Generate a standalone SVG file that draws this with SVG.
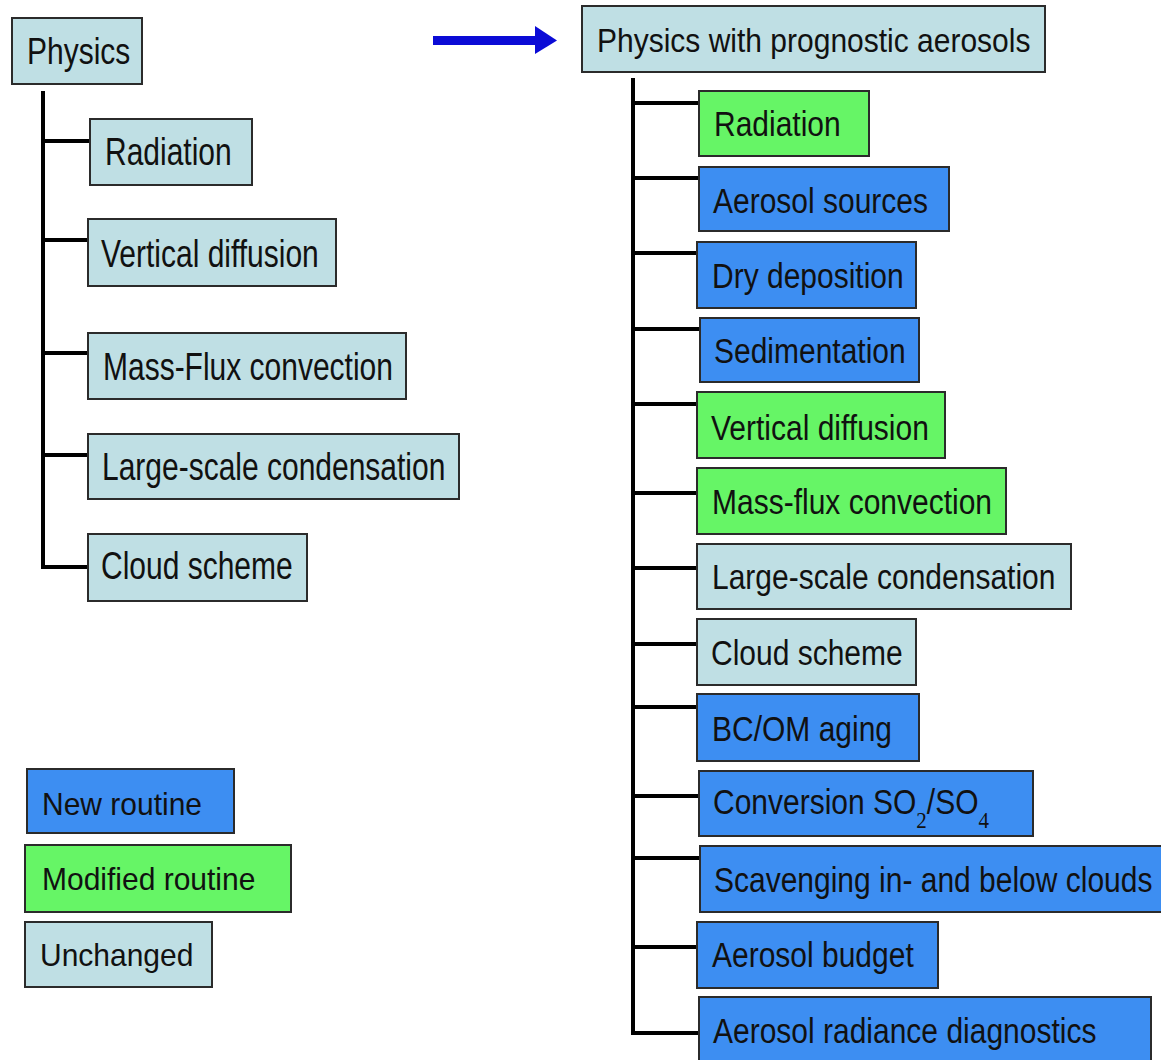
<svg xmlns="http://www.w3.org/2000/svg" width="1161" height="1060" viewBox="0 0 1161 1060">
<style>
  .box { stroke: #2b2b2b; stroke-width: 2; }
  .u { fill: #bfdfe4; }
  .n { fill: #3d8ef2; }
  .m { fill: #66f566; }
  .t { font-family: "Liberation Sans", Arial, sans-serif; font-size: 30px; fill: #111; }
  .sub { font-family: "Liberation Serif", "Times New Roman", serif; font-size: 21px; fill: #111; }
  .conn { stroke: #000; stroke-width: 4; fill: none; }
</style>
<rect width="1161" height="1060" fill="#ffffff"/>

<g id="connectors">
  <line class="conn" x1="43" y1="91" x2="43" y2="569"/>
  <line class="conn" x1="41" y1="141" x2="90" y2="141"/>
  <line class="conn" x1="41" y1="240" x2="88" y2="240"/>
  <line class="conn" x1="41" y1="353" x2="88" y2="353"/>
  <line class="conn" x1="41" y1="455" x2="88" y2="455"/>
  <line class="conn" x1="41" y1="567" x2="88" y2="567"/>

  <line class="conn" x1="633" y1="78" x2="633" y2="1035"/>
  <line class="conn" x1="631" y1="103" x2="699" y2="103"/>
  <line class="conn" x1="631" y1="178" x2="699" y2="178"/>
  <line class="conn" x1="631" y1="253" x2="697" y2="253"/>
  <line class="conn" x1="631" y1="329" x2="700" y2="329"/>
  <line class="conn" x1="631" y1="404" x2="697" y2="404"/>
  <line class="conn" x1="631" y1="493" x2="697" y2="493"/>
  <line class="conn" x1="631" y1="568" x2="697" y2="568"/>
  <line class="conn" x1="631" y1="644" x2="697" y2="644"/>
  <line class="conn" x1="631" y1="707" x2="697" y2="707"/>
  <line class="conn" x1="631" y1="796" x2="699" y2="796"/>
  <line class="conn" x1="631" y1="858" x2="700" y2="858"/>
  <line class="conn" x1="631" y1="947" x2="697" y2="947"/>
  <line class="conn" x1="631" y1="1033" x2="699" y2="1033"/>

  <g id="arrow" fill="#0b0bd6">
    <rect x="433" y="36" width="104" height="9"/>
    <polygon points="535,26 557,40.5 535,54"/>
  </g>
</g>

<!-- Left tree -->
<g id="physics">
  <rect class="box u" x="12" y="18" width="130" height="66"/>
  <text class="t" transform="translate(27,64) scale(1,1.22)">Physics</text>
</g>
<g id="l-radiation">
  <rect class="box u" x="90" y="119" width="162" height="66"/>
  <text class="t" transform="translate(105,165) scale(1,1.28)">Radiation</text>
</g>
<g id="l-vertical-diffusion">
  <rect class="box u" x="88" y="219" width="248" height="67"/>
  <text class="t" transform="translate(101,267) scale(1,1.28)">Vertical diffusion</text>
</g>
<g id="l-mass-flux">
  <rect class="box u" x="88" y="333" width="318" height="66"/>
  <text class="t" transform="translate(103,380) scale(1,1.28)">Mass-Flux convection</text>
</g>
<g id="l-large-scale">
  <rect class="box u" x="88" y="434" width="371" height="65"/>
  <text class="t" transform="translate(102,480) scale(1,1.28)">Large-scale condensation</text>
</g>
<g id="l-cloud">
  <rect class="box u" x="88" y="534" width="219" height="67"/>
  <text class="t" transform="translate(101,579) scale(1,1.28)">Cloud scheme</text>
</g>

<!-- Legend -->
<g id="legend-new">
  <rect class="box n" x="27" y="769" width="207" height="64"/>
  <text class="t" transform="translate(42,815) scale(1,1.04)">New routine</text>
</g>
<g id="legend-modified">
  <rect class="box m" x="25" y="845" width="266" height="67"/>
  <text class="t" transform="translate(42,890) scale(1,1.04)">Modified routine</text>
</g>
<g id="legend-unchanged">
  <rect class="box u" x="25" y="922" width="187" height="65"/>
  <text class="t" transform="translate(40,966) scale(1,1.04)">Unchanged</text>
</g>

<!-- Right tree -->
<g id="physics-aerosols">
  <rect class="box u" x="582" y="6" width="463" height="66"/>
  <text class="t" transform="translate(597,52) scale(1,1.08)">Physics with prognostic aerosols</text>
</g>
<g id="r-radiation">
  <rect class="box m" x="699" y="91" width="170" height="65"/>
  <text class="t" transform="translate(714,136) scale(1,1.14)">Radiation</text>
</g>
<g id="r-aerosol-sources">
  <rect class="box n" x="699" y="167" width="250" height="64"/>
  <text class="t" transform="translate(713,213) scale(1,1.14)">Aerosol sources</text>
</g>
<g id="r-dry-deposition">
  <rect class="box n" x="697" y="242" width="219" height="66"/>
  <text class="t" transform="translate(712,288) scale(1,1.14)">Dry deposition</text>
</g>
<g id="r-sedimentation">
  <rect class="box n" x="700" y="318" width="219" height="64"/>
  <text class="t" transform="translate(714,363) scale(1,1.14)">Sedimentation</text>
</g>
<g id="r-vertical-diffusion">
  <rect class="box m" x="697" y="392" width="248" height="66"/>
  <text class="t" transform="translate(711,440) scale(1,1.14)">Vertical diffusion</text>
</g>
<g id="r-mass-flux">
  <rect class="box m" x="697" y="468" width="309" height="66"/>
  <text class="t" transform="translate(712,514) scale(1,1.14)">Mass-flux convection</text>
</g>
<g id="r-large-scale">
  <rect class="box u" x="697" y="544" width="374" height="65"/>
  <text class="t" transform="translate(712,589) scale(1,1.14)">Large-scale condensation</text>
</g>
<g id="r-cloud">
  <rect class="box u" x="697" y="619" width="219" height="66"/>
  <text class="t" transform="translate(711,665) scale(1,1.14)">Cloud scheme</text>
</g>
<g id="r-bcom">
  <rect class="box n" x="697" y="694" width="222" height="67"/>
  <text class="t" transform="translate(712,741) scale(1,1.14)">BC/OM aging</text>
</g>
<g id="r-conversion">
  <rect class="box n" x="699" y="771" width="334" height="65"/>
  <text class="t" transform="translate(713,814) scale(1,1.14)">Conversion SO<tspan class="sub" dy="12">2</tspan><tspan dy="-12">/SO</tspan><tspan class="sub" dy="12">4</tspan></text>
</g>
<g id="r-scavenging">
  <rect class="box n" x="700" y="846" width="470" height="66"/>
  <text class="t" transform="translate(714,892) scale(1,1.14)">Scavenging in- and below clouds</text>
</g>
<g id="r-budget">
  <rect class="box n" x="697" y="922" width="241" height="66"/>
  <text class="t" transform="translate(712,967) scale(1,1.14)">Aerosol budget</text>
</g>
<g id="r-diagnostics">
  <rect class="box n" x="699" y="997" width="452" height="70"/>
  <text class="t" transform="translate(713,1043) scale(1,1.14)">Aerosol radiance diagnostics</text>
</g>
</svg>
